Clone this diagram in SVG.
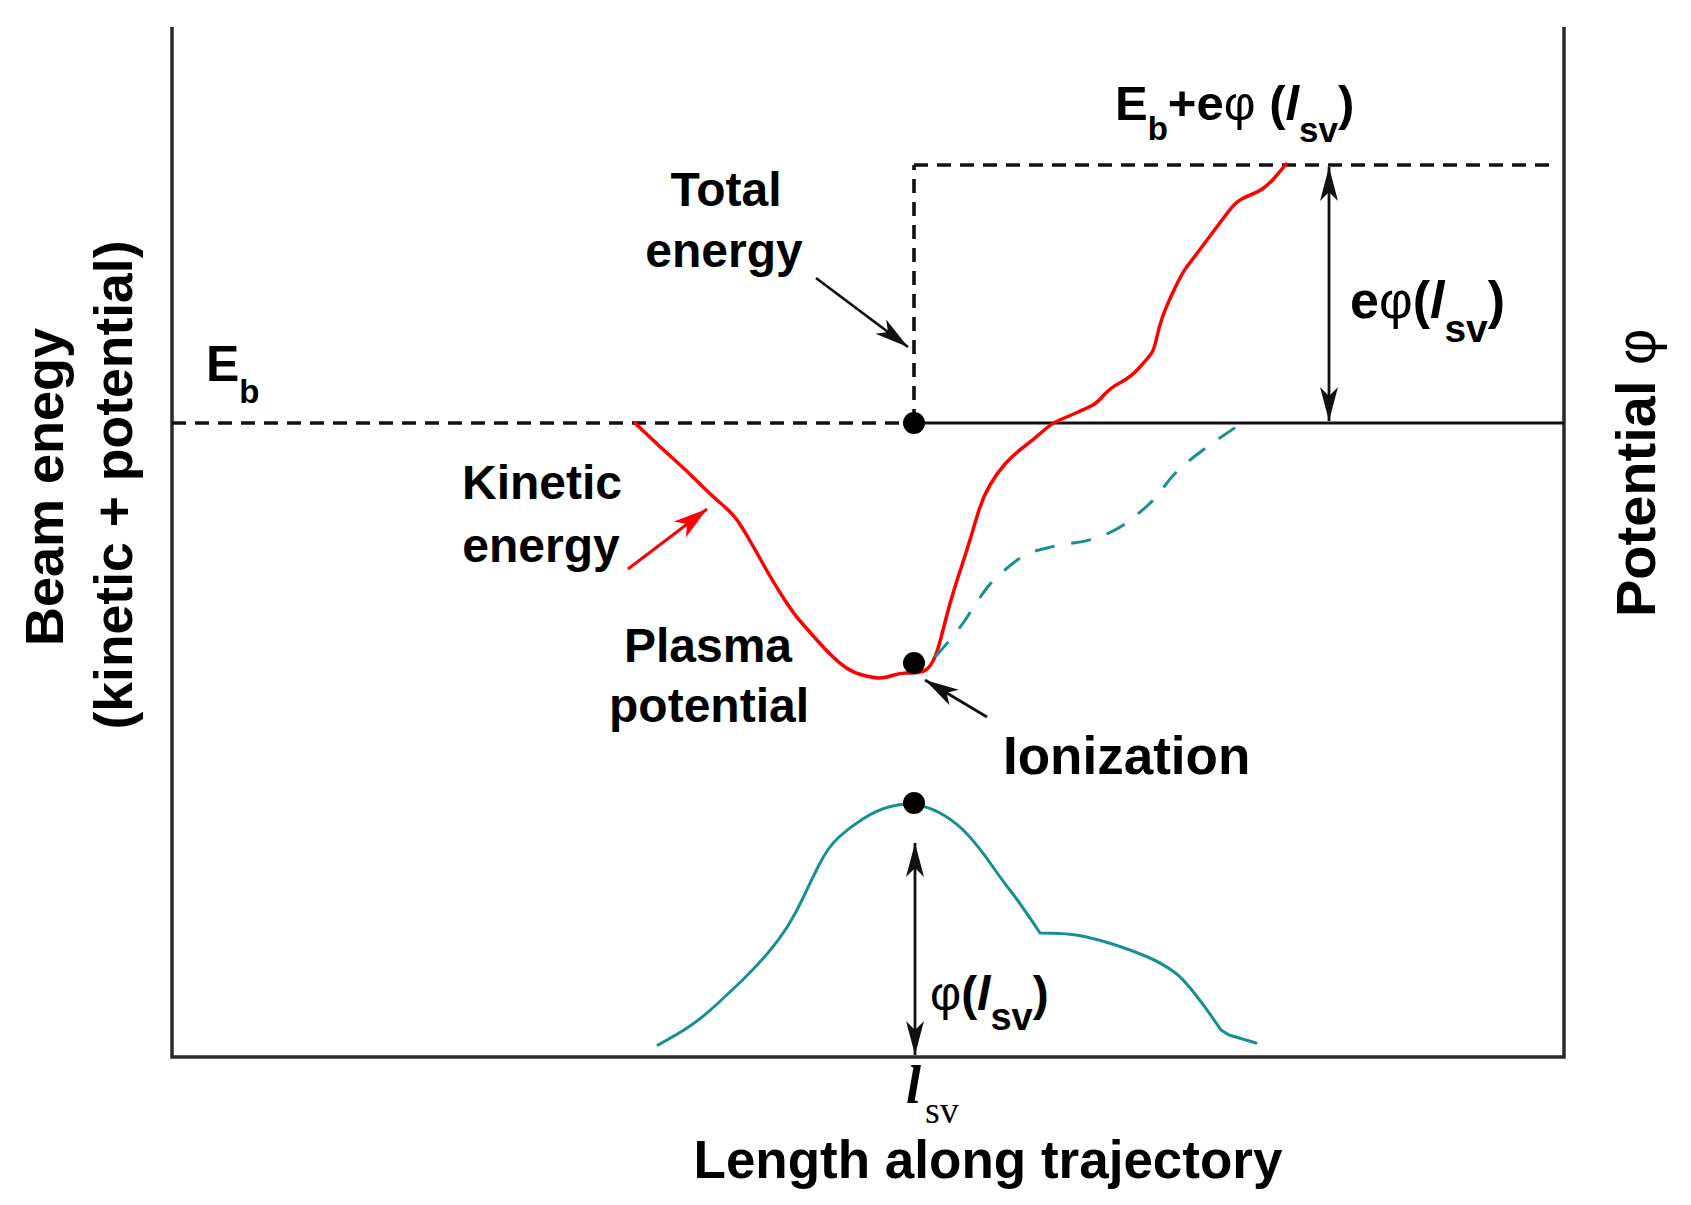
<svg xmlns="http://www.w3.org/2000/svg" width="1691" height="1205" viewBox="0 0 1691 1205">
<style>
  text { font-family: "Liberation Sans", Arial, sans-serif; font-weight: bold; fill: #000; }
  .n { font-weight: normal; }
  .it { font-style: italic; }
  .frame { stroke: #2a2a2a; stroke-width: 3.5; fill: none; }
  .dash { stroke: #111; stroke-width: 3.6; stroke-dasharray: 14 9; fill: none; }
  .solid { stroke: #111; stroke-width: 3; fill: none; }
  .red { stroke: #ff0000; stroke-width: 3.5; fill: none; stroke-linejoin: round; stroke-linecap: round; }
  .teal { stroke: #17908f; stroke-width: 3; fill: none; stroke-linejoin: round; stroke-linecap: round; }
  .tealdash { stroke: #17908f; stroke-width: 3; fill: none; stroke-dasharray: 20 17; }
  .arr { stroke: #111; stroke-width: 2.8; fill: none; }
  .arrred { stroke: #ff0000; stroke-width: 3; fill: none; }
</style>
<defs>
  <marker id="ah" markerUnits="userSpaceOnUse" markerWidth="40" markerHeight="24" viewBox="-36 -12 40 24" refX="0" refY="0" orient="auto-start-reverse">
    <path d="M0,0 L-34,-9 L-25,0 L-34,9 Z" fill="#111"/>
  </marker>
  <marker id="ahr" markerUnits="userSpaceOnUse" markerWidth="40" markerHeight="24" viewBox="-36 -12 40 24" refX="0" refY="0" orient="auto">
    <path d="M0,0 L-34,-10 L-25,0 L-34,10 Z" fill="#ff0000"/>
  </marker>
</defs>

<g id="frame">
  <path class="frame" d="M172,27 L172,1057 L1564,1057 L1564,27"/>
</g>

<g id="levels">
  <line class="dash" x1="172" y1="423" x2="914" y2="423"/>
  <line class="solid" x1="914" y1="423" x2="1564" y2="423"/>
  <line class="dash" x1="914" y1="423" x2="914" y2="165"/>
  <line class="dash" x1="914" y1="165" x2="1553" y2="165"/>
</g>

<g id="curves">
  <path id="kinetic" class="red" d="M635,423 Q660,447 673,458.5 T698.5,482.5 T721.5,504 T737,520 T749.5,540 T764.5,566.5 T782.5,596.5 T800.5,621.5 T815.5,638.5 T831,655 T846.5,668 T864,675.5 T879.5,678 T892.5,675.5 T906.5,673 T918,672.5 T926.5,669.5 T933.5,660 T940,641.5 T946.5,616.5 T954,590 T962.5,563.5 T971,536.5 T979,510 T990,485 T1005,464 T1023,447.5 T1042.5,431.5 T1059.5,420 T1077,412.5 T1092,405.5 T1103.5,395.5 T1120.5,382.5 T1139.5,367.5 T1151,354 T1156.5,338.5 T1162.5,317 T1174,290 T1187,266.5 T1199.5,250 T1214.5,230 T1228.5,211.5 T1240,200 T1251.5,194.5 T1263,188.5 T1273.5,179 T1286,164"/>
  <path id="potential-dashed" class="tealdash" d="M935,657 Q957,633 968.5,615 T986.5,588.5 T1003,571.5 T1020,558 T1037,550.5 T1055,546 T1073,543 T1091.5,539.5 T1110,532.5 T1128.5,521.5 T1147,506 T1163.5,487.5 T1178.5,470 T1197,454.5 T1217,440 T1242,423"/>
  <path id="potential" class="teal" d="M658,1045 Q680,1033 691.5,1025 T716,1005 T742.5,980 T767.5,953.5 T787.5,926.5 T803,898 T819,865 T839,837 T863.5,818.5 T890.5,806.5 T917,805 T943.5,815 T968,835 T990.5,863.5 T1011,891.5 T1040,933 Q1069,933 1084.5,936.5 T1115.5,945 T1146.5,956.5 T1175.5,973 T1221,1030 L1229,1035 L1256,1043"/>
</g>

<g id="points">
  <circle id="dot-eb" cx="914" cy="423" r="11" fill="#000"/>
  <circle id="dot-plasma" cx="914" cy="663" r="11" fill="#000"/>
  <circle id="dot-peak" cx="914" cy="803" r="11" fill="#000"/>
</g>

<g id="connectors">
  <line class="arr" x1="1329" y1="167" x2="1329" y2="421" marker-start="url(#ah)" marker-end="url(#ah)"/>
  <line class="arr" x1="915" y1="843" x2="915" y2="1055" marker-start="url(#ah)" marker-end="url(#ah)"/>
  <line class="arr" x1="816" y1="278" x2="908" y2="347" marker-end="url(#ah)"/>
  <line class="arr" x1="987" y1="717" x2="925" y2="680" marker-end="url(#ah)"/>
  <line class="arrred" x1="628" y1="569" x2="707" y2="509" marker-end="url(#ahr)"/>
</g>

<g id="labels">
  <text x="726" y="206" font-size="48" text-anchor="middle">Total</text>
  <text x="724" y="267" font-size="48" text-anchor="middle">energy</text>
  <text x="542" y="499" font-size="48" text-anchor="middle">Kinetic</text>
  <text x="541" y="562" font-size="48" text-anchor="middle">energy</text>
  <text x="708" y="662" font-size="48" text-anchor="middle">Plasma</text>
  <text x="709" y="722" font-size="48" text-anchor="middle">potential</text>
  <text x="1003" y="774" font-size="53">Ionization</text>
  <text x="988" y="1178" font-size="53" text-anchor="middle">Length along trajectory</text>

  <text x="206" y="381" font-size="50">E<tspan font-size="33" dy="22">b</tspan></text>

  <text x="1115" y="120" font-size="49">E<tspan font-size="33" dy="20">b</tspan><tspan dy="-20">+e</tspan><tspan class="n">φ</tspan> (<tspan class="it">l</tspan><tspan font-size="35" dy="22">sv</tspan><tspan dy="-22">)</tspan></text>

  <text x="1350" y="318" font-size="52">e<tspan class="n">φ</tspan>(<tspan class="it">l</tspan><tspan font-size="39" dy="24">sv</tspan><tspan dy="-24">)</tspan></text>

  <text x="930" y="1010" font-size="48"><tspan class="n">φ</tspan>(<tspan class="it">l</tspan><tspan font-size="38" dy="20">sv</tspan><tspan dy="-20">)</tspan></text>

  <text x="906" y="1103" font-size="54" style="font-family:'Liberation Serif','Times New Roman',serif;font-style:italic">l</text>
  <text x="925" y="1123" font-size="38" style="font-family:'Liberation Serif','Times New Roman',serif;font-weight:normal">sv</text>

  <text transform="translate(63,487) rotate(-90)" font-size="54" text-anchor="middle">Beam enegy</text>
  <text transform="translate(132,485) rotate(-90)" font-size="53.5" text-anchor="middle">(kinetic + potential)</text>
  <text transform="translate(1655,617) rotate(-90)" font-size="56">Potential <tspan class="n">φ</tspan></text>
</g>
</svg>
